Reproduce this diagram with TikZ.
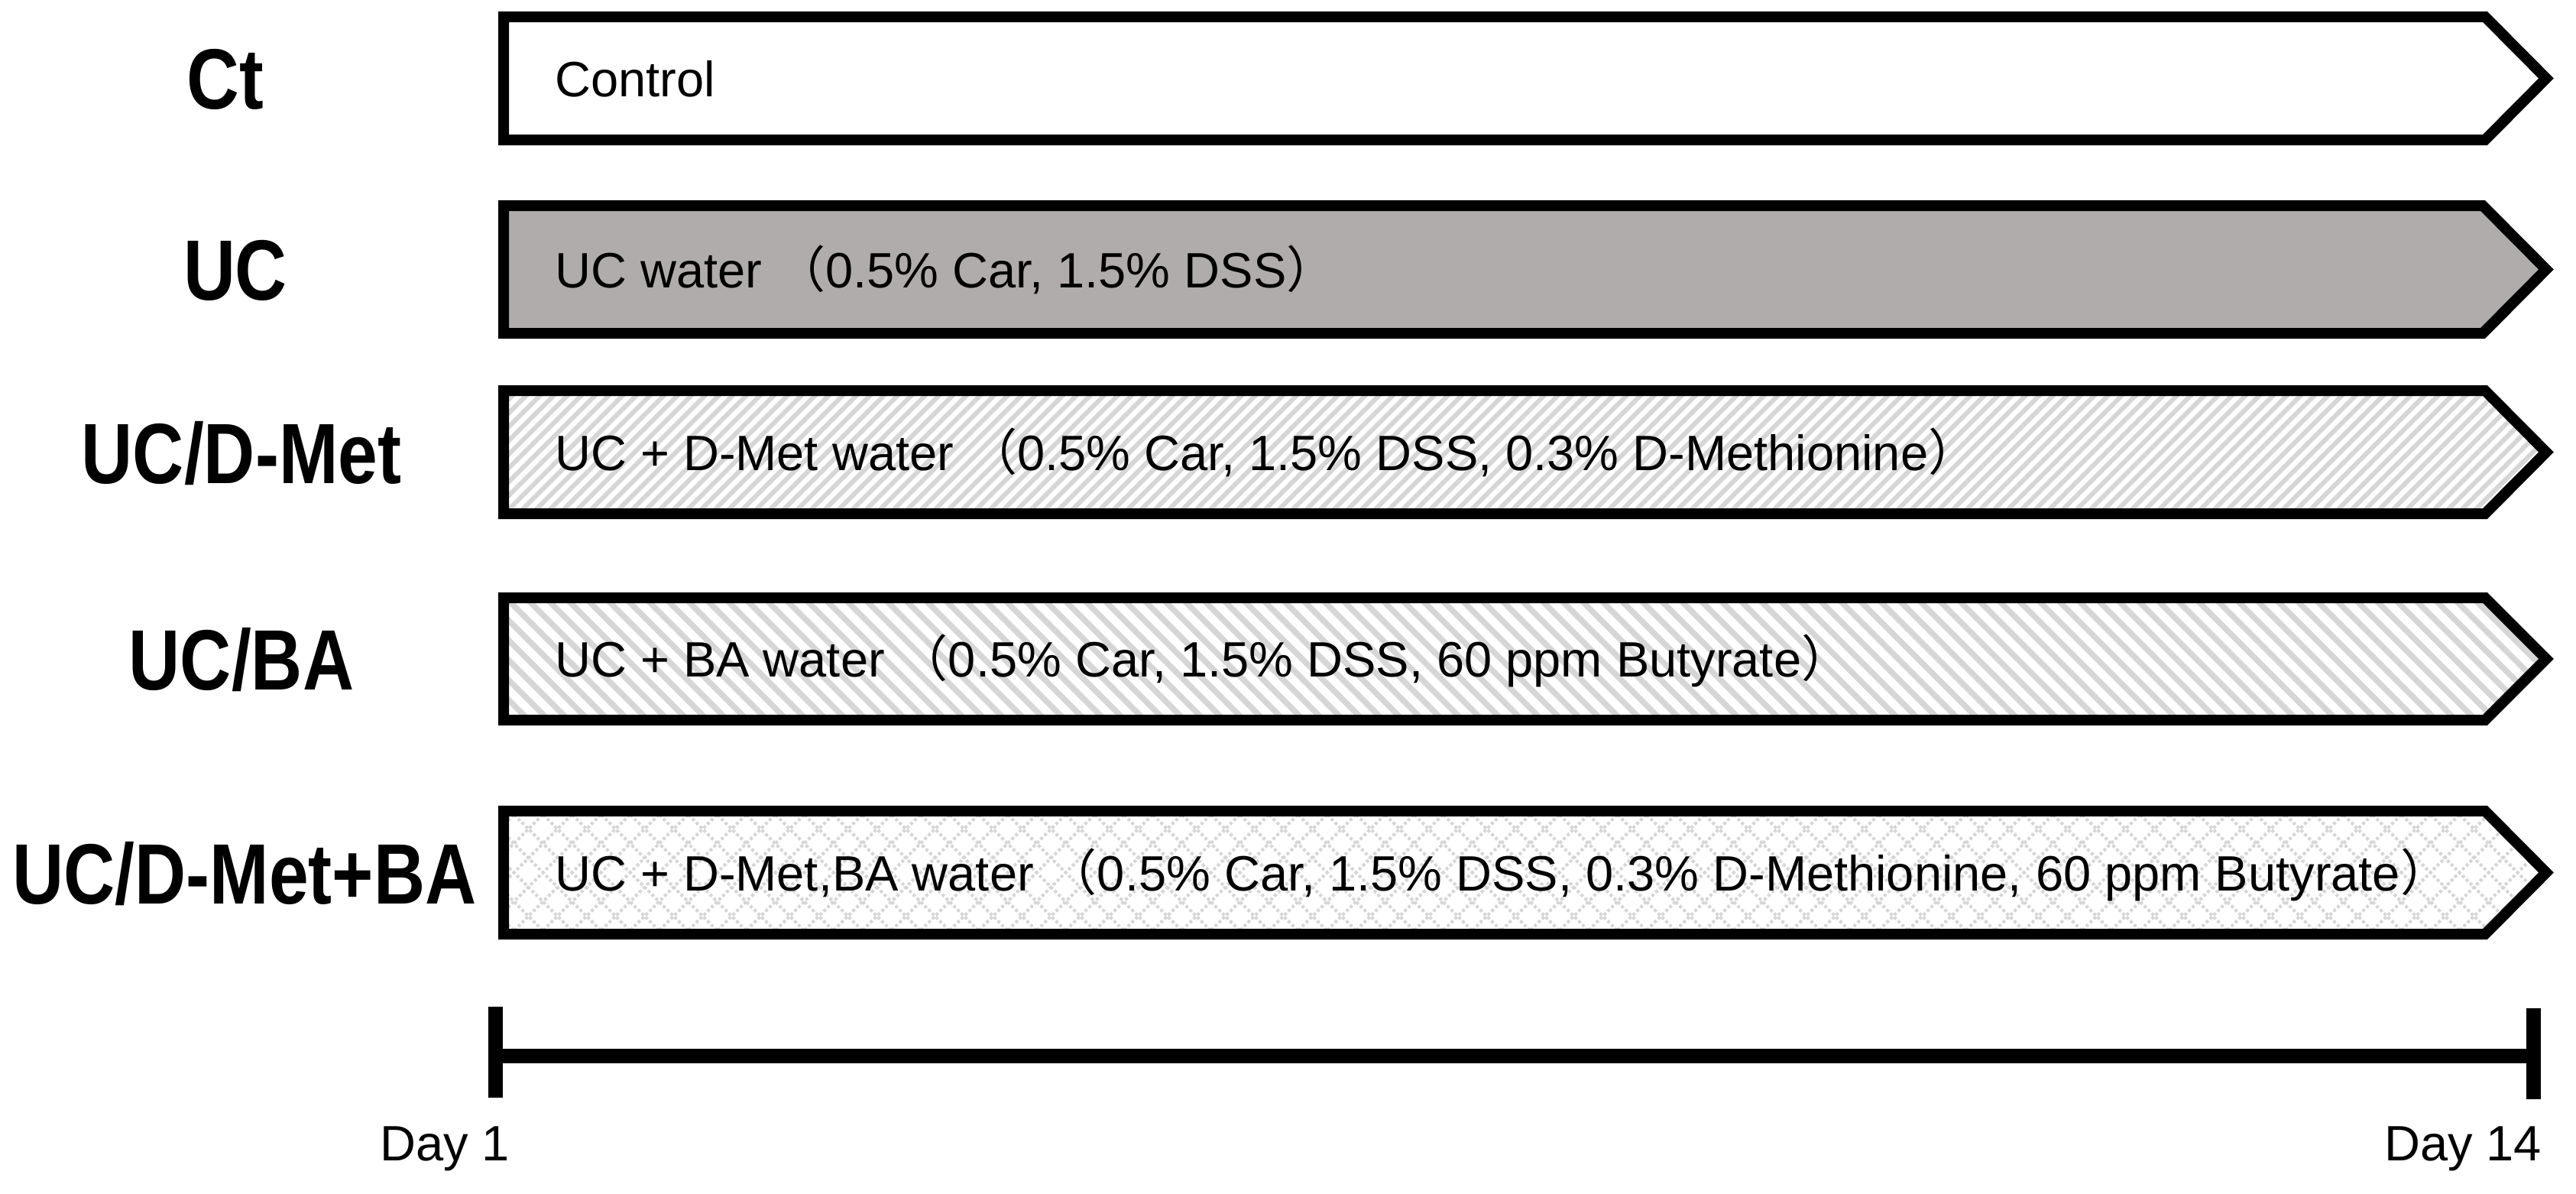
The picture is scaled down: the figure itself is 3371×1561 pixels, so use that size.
\documentclass[tikz,border=0pt]{standalone}
\usepackage{fontspec}
\setmainfont{Liberation Sans}
\newfontfamily\cjkfont{Noto Sans CJK JP}
\usepackage{graphicx}
\definecolor{ucgray}{RGB}{176,172,171}
\definecolor{hatchgray}{RGB}{214,214,214}
\newcommand{\lpar}{{\cjkfont （}}
\newcommand{\rpar}{{\cjkfont ）}}
\begin{document}
\begin{tikzpicture}[x=1pt,y=-1pt,
  box/.style={draw=black, line width=14pt, line join=miter},
  lab/.style={font=\fontsize{112}{120}\selectfont\bfseries, inner sep=0pt, anchor=base},
  txt/.style={font=\fontsize{65}{70}\selectfont, inner sep=0pt, anchor=base west},
  day/.style={font=\fontsize{65}{70}\selectfont, inner sep=0pt, anchor=base west},
  hatchA/.style={draw=hatchgray, line width=6pt},
  hatchB/.style={draw=hatchgray, line width=7.5pt},
  hatchC/.style={draw=hatchgray, line width=4pt, dash pattern=on 4pt off 3pt},
  axis/.style={line width=19pt, line cap=butt},
]
\useasboundingbox (0,0) rectangle (3371,1561);

% ---- Ct ----
\draw[box, fill=white] (659,22) -- (3252,22) -- (3332,102.5) -- (3252,183) -- (659,183) -- cycle;
\node[lab] (lct) at (295,142) {\scalebox{0.85}[1]{Ct}};
\node[txt] (tct) at (726,126) {Control};

% ---- UC ----
\draw[box, fill=ucgray] (659,269) -- (3249,269) -- (3332,352.5) -- (3249,436) -- (659,436) -- cycle;
\node[lab] (luc) at (308,392) {\scalebox{0.84}[1]{UC}};
\node[txt] (tuc) at (726,376) {UC water \lpar0.5\% Car, 1.5\% DSS\rpar};

% ---- UC/D-Met ----
\begin{scope}
\clip (659,511) -- (3252,511) -- (3332,591.5) -- (3252,672) -- (659,672) -- cycle;
\foreach \x in {480,498,...,3400} \draw[hatchA] (\x,672) -- ++(161,-161);
\end{scope}
\draw[box] (659,511) -- (3252,511) -- (3332,591.5) -- (3252,672) -- (659,672) -- cycle;
\node[lab] (ldm) at (316,632) {\scalebox{0.83}[1]{UC/D-Met}};
\node[txt] (tdm) at (726,615) {UC + D-Met water \lpar0.5\% Car, 1.5\% DSS, 0.3\% D-Methionine\rpar};

% ---- UC/BA ----
\begin{scope}
\clip (659,782) -- (3252,782) -- (3332,862) -- (3252,942) -- (659,942) -- cycle;
\foreach \x in {480,506,...,3400} \draw[hatchB] (\x,782) -- ++(160,160);
\end{scope}
\draw[box] (659,782) -- (3252,782) -- (3332,862) -- (3252,942) -- (659,942) -- cycle;
\node[lab] (lba) at (316,902) {\scalebox{0.83}[1]{UC/BA}};
\node[txt] (tba) at (726,885.5) {UC + BA water \lpar0.5\% Car, 1.5\% DSS, 60 ppm Butyrate\rpar};

% ---- UC/D-Met+BA ----
\begin{scope}
\clip (659,1061) -- (3252,1061) -- (3332,1141.5) -- (3252,1222) -- (659,1222) -- cycle;
\foreach \x in {440,478,...,3400} {
  \draw[hatchC] (\x,1222) -- ++(161,-161);
  \draw[hatchC] (\x,1061) -- ++(161,161);
}
\end{scope}
\draw[box] (659,1061) -- (3252,1061) -- (3332,1141.5) -- (3252,1222) -- (659,1222) -- cycle;
\node[lab] (ldmba) at (320,1182) {\scalebox{0.83}[1]{UC/D-Met+BA}};
\node[txt] (tdmba) at (726,1165) {UC + D-Met,BA water \lpar0.5\% Car, 1.5\% DSS, 0.3\% D-Methionine, 60 ppm Butyrate\rpar};

% ---- timeline ----
\coordinate (d1) at (648,1381.5);
\coordinate (d14) at (3315,1381.5);
\draw[axis] (d1) -- (d14);
\draw[axis] ([yshift=-54.5pt]d1) -- ([yshift=64.5pt]d1);
\draw[axis] ([yshift=-56.5pt]d14) -- ([yshift=62.5pt]d14);
\node[day] (day1) at (497,1518) {Day 1};
\node[day] (day14) at (3120,1518) {Day 14};
\end{tikzpicture}
\end{document}
